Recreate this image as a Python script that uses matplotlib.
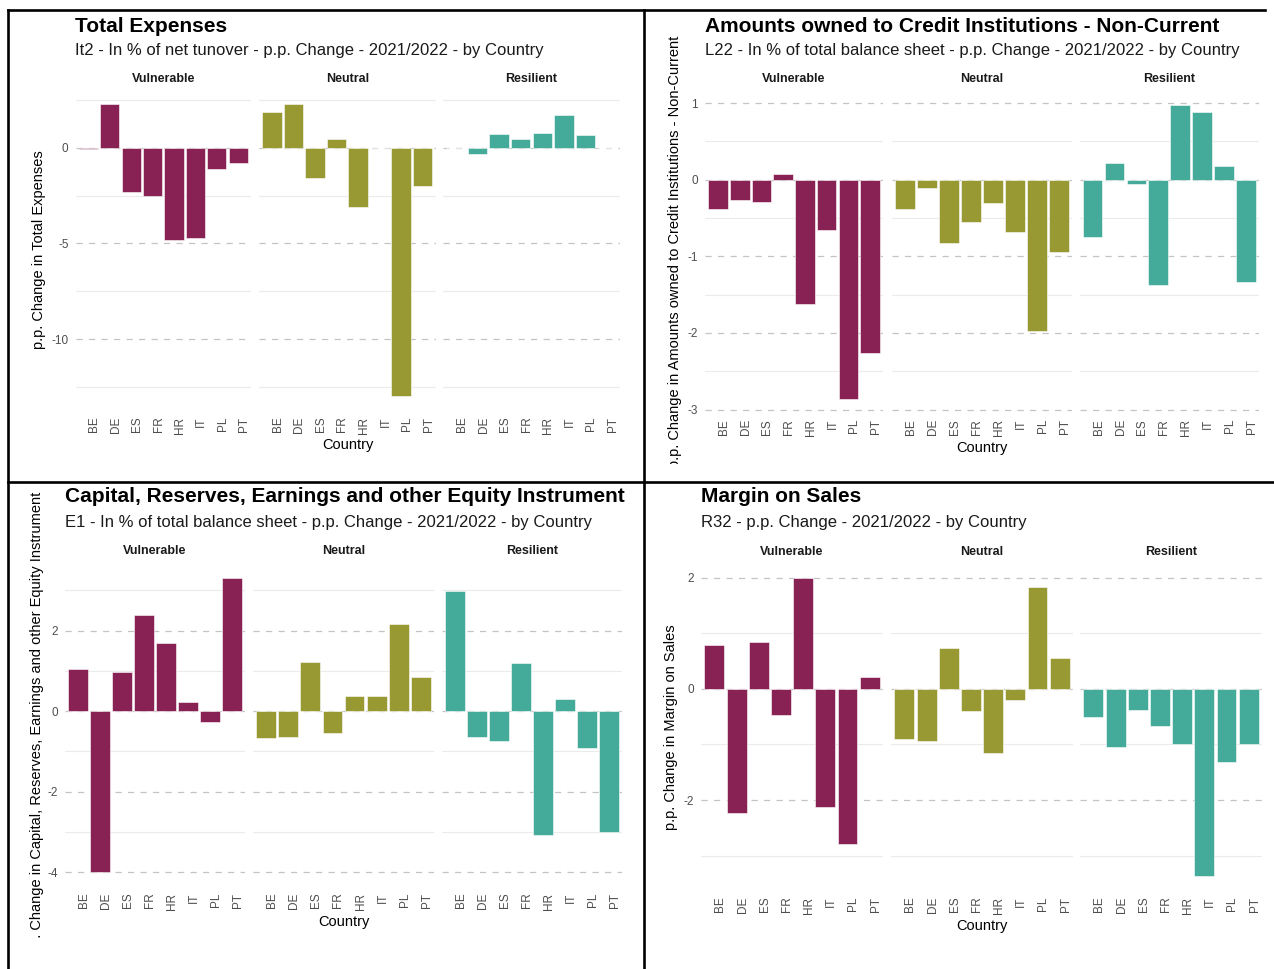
import numpy as np
import matplotlib.pyplot as plt
from matplotlib.transforms import Bbox, TransformedBbox
from matplotlib.lines import Line2D

plt.rcParams['font.family'] = ['Liberation Sans', 'DejaVu Sans']

W, H = 1274, 969

countries = ["BE", "DE", "ES", "FR", "HR", "IT", "PL", "PT"]
groups = ["Vulnerable", "Neutral", "Resilient"]
group_colors = ["#882255", "#999933", "#44AA99"]

# It2 - total expenses, in % of net turnover (p.p. change)
exp_vuln = [-0.06, 2.27, -2.29, -2.52, -4.83, -4.70, -1.10, -0.79]
exp_neut = [1.89, 2.31, -1.56, 0.47, -3.08, -0.03, -13.0, -2.01]
exp_resi = [0.0, -0.30, 0.73, 0.44, 0.77, 1.71, 0.65, -0.02]

# L22 - amounts owed to credit institutions, non-current
l22_vuln = [-0.38, -0.27, -0.29, 0.08, -1.62, -0.66, -2.86, -2.26]
l22_neut = [-0.38, -0.11, -0.83, -0.55, -0.30, -0.68, -1.97, -0.94]
l22_resi = [-0.75, 0.22, -0.05, -1.37, 0.98, 0.88, 0.18, -1.33]

# E1 - capital, reserves, earnings and other equity
e1_vuln = [1.05, -4.0, 0.98, 2.38, 1.68, 0.23, -0.27, 3.31]
e1_neut = [-0.66, -0.64, 1.21, -0.54, 0.37, 0.37, 2.17, 0.85]
e1_resi = [2.99, -0.64, -0.73, 1.19, -3.08, 0.31, -0.92, -2.99]

# R32 - margin on sales
r32_vuln = [0.80, -2.24, 0.85, -0.47, 2.00, -2.13, -2.79, 0.21]
r32_neut = [-0.90, -0.94, 0.73, -0.40, -1.15, -0.19, 1.84, 0.56]
r32_resi = [-0.50, -1.05, -0.38, -0.67, -1.00, -3.37, -1.32, -1.00]

exp_major, exp_minor = [0, -5, -10], [2.5, -2.5, -7.5, -12.5]
l22_major, l22_minor = [1, 0, -1, -2, -3], [0.5, -0.5, -1.5, -2.5]
e1_major, e1_minor = [2, 0, -2, -4], [3, 1, -1, -3]
r32_major, r32_minor = [2, 0, -2], [1, -1, -3]

panels = [
    dict(title="Total Expenses",
         subtitle="It2 - In % of net tunover - p.p. Change - 2021/2022 - by Country",
         ylabel="p.p. Change in Total Expenses",
         values=[exp_vuln, exp_neut, exp_resi], major=exp_major, minor=exp_minor,
         facets=[(75.5, 251), (259, 435.5), (443, 620)], top=89, bottom=411,
         tx=75, ty=26, sy=50, strip_y=79, xl_y=445, yl_x=39, clip=None),
    dict(title="Amounts owned to Credit Institutions - Non-Current",
         subtitle="L22 - In % of total balance sheet - p.p. Change - 2021/2022 - by Country",
         ylabel="p.p. Change in Amounts owned to Credit Institutions - Non-Current",
         values=[l22_vuln, l22_neut, l22_resi], major=l22_major, minor=l22_minor,
         facets=[(705, 883), (891.5, 1072), (1079.5, 1259)], top=90, bottom=413.5,
         tx=705, ty=26, sy=50, strip_y=79, xl_y=448, yl_x=675.5, clip=(12, 464)),
    dict(title="Capital, Reserves, Earnings and other Equity Instrument",
         subtitle="E1 - In % of total balance sheet - p.p. Change - 2021/2022 - by Country",
         ylabel="p.p. Change in Capital, Reserves, Earnings and other Equity Instrument",
         values=[e1_vuln, e1_neut, e1_resi], major=e1_major, minor=e1_minor,
         facets=[(65, 245), (253, 434), (442, 622)], top=563, bottom=887,
         tx=65, ty=497, sy=522, strip_y=551, xl_y=922, yl_x=37, clip=(484, 938)),
    dict(title="Margin on Sales",
         subtitle="R32 - p.p. Change - 2021/2022 - by Country",
         ylabel="p.p. Change in Margin on Sales",
         values=[r32_vuln, r32_neut, r32_resi], major=r32_major, minor=r32_minor,
         facets=[(701, 883), (891, 1073), (1080, 1262)], top=563, bottom=891,
         tx=701, ty=497, sy=522, strip_y=552, xl_y=926, yl_x=671.5, clip=None),
]

fig = plt.figure(figsize=(W / 100, H / 100), dpi=100)
fig.patch.set_facecolor("white")


def px_axes(left, top, right, bottom):
    return fig.add_axes([left / W, 1 - bottom / H, (right - left) / W, (bottom - top) / H])


def fx(x):
    return x / W


def fy(y):
    return 1 - y / H


x = np.arange(len(countries))

for p in panels:
    allv = np.concatenate([np.asarray(v, float) for v in p["values"]])
    lo, hi = min(allv.min(), 0), max(allv.max(), 0)
    pad = 0.05 * (hi - lo)
    ylim = (lo - pad, hi + pad)

    for k, (grp, vals, col, (fl, fr)) in enumerate(zip(groups, p["values"], group_colors, p["facets"])):
        ax = px_axes(fl, p["top"], fr, p["bottom"])
        ax.set_facecolor("none")
        ax.set_xlim(-0.6, len(countries) - 0.4)
        ax.set_ylim(ylim)
        for yv in p["minor"]:
            ax.axhline(yv, color="#ebebeb", lw=0.8, zorder=0)
        for yv in p["major"]:
            ax.axhline(yv, color="#c4c4c4", lw=0.9, ls=(0, (5, 5)), zorder=0)
        ax.bar(x, vals, width=0.9, color=col, edgecolor="white", linewidth=0.4, zorder=2)
        ax.set_xticks(x)
        # rotated codes sit just right of their bar (left edge of the text on the tick)
        ax.set_xticklabels(countries, rotation=90, ha="left", fontsize=8.5, color="#4d4d4d")
        if k == 0:
            ax.set_yticks(p["major"])
            ax.set_yticklabels([f"{v:g}" for v in p["major"]], fontsize=8.5, color="#4d4d4d")
        else:
            ax.set_yticks([])
        ax.tick_params(axis="x", length=0, pad=4)
        ax.tick_params(axis="y", length=0, pad=5)
        for s in ax.spines.values():
            s.set_visible(False)
        fig.text(fx((fl + fr) / 2), fy(p["strip_y"]), grp, ha="center", va="center",
                 fontsize=9, fontweight="bold", color="#1a1a1a")

    fig.text(fx(p["tx"]), fy(p["ty"]), p["title"], ha="left", va="center",
             fontsize=15, fontweight="bold", color="black")
    fig.text(fx(p["tx"]), fy(p["sy"]), p["subtitle"], ha="left", va="center",
             fontsize=12, color="#1a1a1a")
    left_edge, right_edge = p["facets"][0][0], p["facets"][-1][1]
    fig.text(fx((left_edge + right_edge) / 2), fy(p["xl_y"]), "Country", ha="center",
             va="center", fontsize=10.5, color="black")
    yl = fig.text(fx(p["yl_x"]), fy((p["top"] + p["bottom"]) / 2), p["ylabel"],
                  rotation=90, ha="center", va="center", fontsize=10.5, color="black")
    if p["clip"] is not None:
        ctop, cbot = p["clip"]
        box = TransformedBbox(Bbox.from_extents(0, fy(cbot), 1, fy(ctop)), fig.transFigure)
        yl.set_clip_box(box)
        yl.set_clip_on(True)

# frame lines separating the four charts
frame = [((8, 1265), (10, 10)), ((8, 8), (10, 969)), ((644, 644), (10, 969)), ((8, 1274), (482, 482))]
for xs, ys in frame:
    fig.add_artist(Line2D([fx(v) for v in xs], [fy(v) for v in ys], color="black", lw=1.9,
                          transform=fig.transFigure, solid_capstyle="projecting"))

fig.savefig("out.png", dpi=100)
